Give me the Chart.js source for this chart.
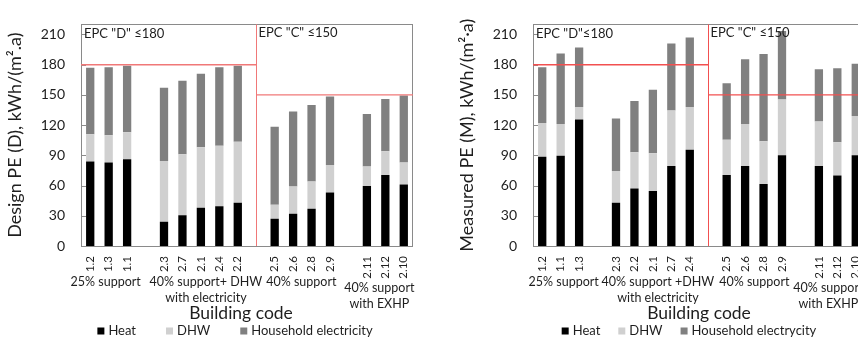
<!DOCTYPE html>
<html><head><meta charset="utf-8">
<script src="https://cdn.jsdelivr.net/npm/chart.js@4.4.1/dist/chart.umd.min.js"></script>
<style>
html,body{margin:0;padding:0;background:#fff;overflow:hidden;width:858px;height:337px;}
#wrapL{position:absolute;left:0;top:0;width:430px;height:337px;}
#wrapR{position:absolute;left:452px;top:0;width:430px;height:337px;}
</style></head><body>
<div id="wrapL"><canvas id="cL"></canvas></div>
<div id="wrapR"><canvas id="cR"></canvas></div>
<script>
// ---- data ----
const designCodes   = ['1.2','1.3','1.1','', '2.3','2.7','2.1','2.4','2.2','', '2.5','2.6','2.8','2.9','', '2.11','2.12','2.10'];
const designHeat    = [84, 83, 86, null, 24, 30.5, 38, 39.5, 43, null, 27, 32, 37, 53, null, 59.5, 70.5, 61];
const designDHW     = [27, 27, 27, null, 60.5, 60.5, 60, 60, 60.5, null, 14, 27, 27, 27.5, null, 19.5, 23.5, 22];
const designElec    = [66, 67.5, 66, null, 72.5, 73, 73, 78, 75.5, null, 77.5, 74.5, 76, 68, null, 52, 52, 66.5];

const measuredCodes = ['1.2','1.1','1.3','', '2.3','2.2','2.1','2.7','2.4','', '2.5','2.6','2.8','2.9','', '2.11','2.12','2.10'];
const measuredHeat  = [88.5, 89.5, 125.5, null, 43, 57, 54.5, 79.5, 95.5, null, 70.5, 79.5, 61.5, 90, null, 79.5, 70, 90];
const measuredDHW   = [33.5, 31.5, 12.5, null, 31.5, 36, 37.5, 55, 42.5, null, 35, 41.5, 42.5, 55.5, null, 44, 33, 39];
const measuredElec  = [55.5, 70, 59, null, 52, 51, 63, 66.5, 69, null, 56, 64.5, 86.5, 68, null, 52, 73.5, 52];

const epcD = 180, epcC = 150;
const yMax = 220, yStep = 30;

const FONT = 'Lato, "Open Sans", sans-serif';
const TXT = '#1e1e1e';

const decorPlugin = {
  id: 'decor',
  afterDatasetsDraw(chart, args, o) {
    const {ctx, chartArea: a, scales: {x, y}} = chart;
    ctx.save();
    // inner ticks
    ctx.strokeStyle = '#8c8c8c'; ctx.lineWidth = 1;
    y.ticks.forEach(t => {
      if (t.value > 0) {
        const py = Math.round(y.getPixelForValue(t.value)) + 0.5;
        ctx.beginPath(); ctx.moveTo(a.left, py); ctx.lineTo(a.left + 5, py); ctx.stroke();
      }
    });
    // border
    ctx.strokeStyle = '#8a8a8a';
    ctx.strokeRect(Math.round(a.left) + 0.5, Math.round(a.top) + 0.5, Math.round(a.right - a.left) - 1, Math.round(a.bottom - a.top));
    // thresholds
    const sx = Math.round(x.getPixelForValue(o.splitIndex)) + 0.5;
    ctx.strokeStyle = o.lineColor; ctx.lineWidth = 1;
    ctx.beginPath(); ctx.moveTo(sx, a.top); ctx.lineTo(sx, a.bottom); ctx.stroke();
    ctx.lineWidth = 1.4;
    const y1 = y.getPixelForValue(o.limitLeft);
    const y2 = y.getPixelForValue(o.limitRight);
    ctx.beginPath(); ctx.moveTo(a.left, y1); ctx.lineTo(sx, y1); ctx.stroke();
    ctx.beginPath(); ctx.moveTo(sx, y2); ctx.lineTo(a.right, y2); ctx.stroke();
    // EPC labels
    ctx.fillStyle = TXT; ctx.font = '13px ' + FONT; ctx.textBaseline = 'middle'; ctx.textAlign = 'left';
    ctx.fillText(o.epcLeft, a.left + 3, a.top + 9);
    ctx.fillText(o.epcRight, sx + 2, a.top + 8);
    // group labels
    ctx.font = '12.5px ' + FONT; ctx.textAlign = 'center';
    o.groups.forEach(g => {
      const cx = (x.getPixelForValue(g.from) + x.getPixelForValue(g.to)) / 2 + (g.dx || 0);
      g.lines.forEach((t, i) => ctx.fillText(t, cx, g.y + i * 15.5));
    });
    // x title
    ctx.font = '17.5px ' + FONT;
    ctx.fillText(o.xTitle, (a.left + a.right) / 2 + o.xTitleDx, 313);
    // legend
    ctx.font = '13px ' + FONT;
    const items = chart.data.datasets.map(d => ({label: d.label, color: d.backgroundColor, w: ctx.measureText(d.label).width}));
    const box = 7, bgap = 4;
    let total = 0;
    items.forEach((it, i) => { total += box + bgap + it.w + (i ? o.legendGap : 0); });
    let lx = (a.left + a.right) / 2 + o.legendDx - total / 2;
    const ly = 331;
    ctx.textAlign = 'left';
    items.forEach(it => {
      ctx.fillStyle = it.color; ctx.fillRect(lx, ly - 3.5, box, box);
      ctx.fillStyle = TXT; ctx.fillText(it.label, lx + box + bgap, ly);
      lx += box + bgap + it.w + o.legendGap;
    });
    ctx.restore();
  }
};

function makeChart(id, codes, heat, dhw, elec, yTitle, elecLabel, deco) {
  return new Chart(document.getElementById(id), {
    type: 'bar',
    data: {
      labels: codes,
      datasets: [
        {label: 'Heat', data: heat, backgroundColor: '#000000'},
        {label: 'DHW', data: dhw, backgroundColor: '#d0d0d0'},
        {label: elecLabel, data: elec, backgroundColor: '#808080'}
      ].map(d => Object.assign(d, {borderWidth: 0, barPercentage: 0.45, categoryPercentage: 1}))
    },
    options: {
      responsive: true, maintainAspectRatio: false, animation: false,
      layout: {padding: {top: 12, right: 17, left: 0, bottom: 0}},
      plugins: {legend: {display: false}, tooltip: {enabled: false}, decor: deco},
      scales: {
        x: {
          stacked: true,
          grid: {display: false, drawTicks: false},
          border: {display: false},
          ticks: {autoSkip: false, minRotation: 90, maxRotation: 90, padding: 10, color: TXT, font: {family: FONT, size: 11.5}},
          afterFit(s) { s.height = 91; }
        },
        y: {
          stacked: true, min: 0, max: yMax,
          grid: {display: false, drawTicks: false},
          border: {display: false},
          ticks: {stepSize: yStep, includeBounds: false, padding: 16, color: TXT, font: {family: FONT, size: 14}},
          title: {display: true, text: yTitle, color: TXT, font: {family: FONT, size: 18}, padding: {top: 4, bottom: 0}},
          afterFit(s) { s.width = 81; }
        }
      }
    },
    plugins: [decorPlugin]
  });
}

makeChart('cL', designCodes, designHeat, designDHW, designElec,
  'Design PE (D), kWh/(m\u00B2.a)', 'Household electricity', {
    splitIndex: 9, limitLeft: epcD, limitRight: epcC, lineColor: '#f07878',
    epcLeft: 'EPC "D" \u2264180', epcRight: 'EPC "C" \u2264150',
    xTitle: 'Building code', xTitleDx: -6, legendDx: -12, legendGap: 30,
    groups: [
      {lines: ['25% support'], from: 0, to: 2, dx: -3, y: 282},
      {lines: ['40% support+ DHW', 'with electricity'], from: 4, to: 8, dx: 5, y: 282},
      {lines: ['40% support'], from: 10, to: 13, dx: -1, y: 282},
      {lines: ['40% support', 'with EXHP'], from: 15, to: 17, dx: -6, y: 288}
    ]
  });

makeChart('cR', measuredCodes, measuredHeat, measuredDHW, measuredElec,
  'Measured PE (M), kWh/(m\u00B2\u00B7a)', 'Household electrycity', {
    splitIndex: 9, limitLeft: epcD, limitRight: epcC, lineColor: '#f25050',
    epcLeft: 'EPC "D"\u2264180', epcRight: 'EPC "C" \u2264150',
    xTitle: 'Building code', xTitleDx: 0, legendDx: -10, legendGap: 18,
    groups: [
      {lines: ['25% support'], from: 0, to: 2, dx: 3, y: 282},
      {lines: ['40% support +DHW', 'with electricity'], from: 4, to: 8, dx: 5, y: 282},
      {lines: ['40% support'], from: 10, to: 13, dx: 0, y: 282},
      {lines: ['40% support', 'with EXHP'], from: 15, to: 17, dx: -9, y: 288}
    ]
  });
</script>
</body></html>
